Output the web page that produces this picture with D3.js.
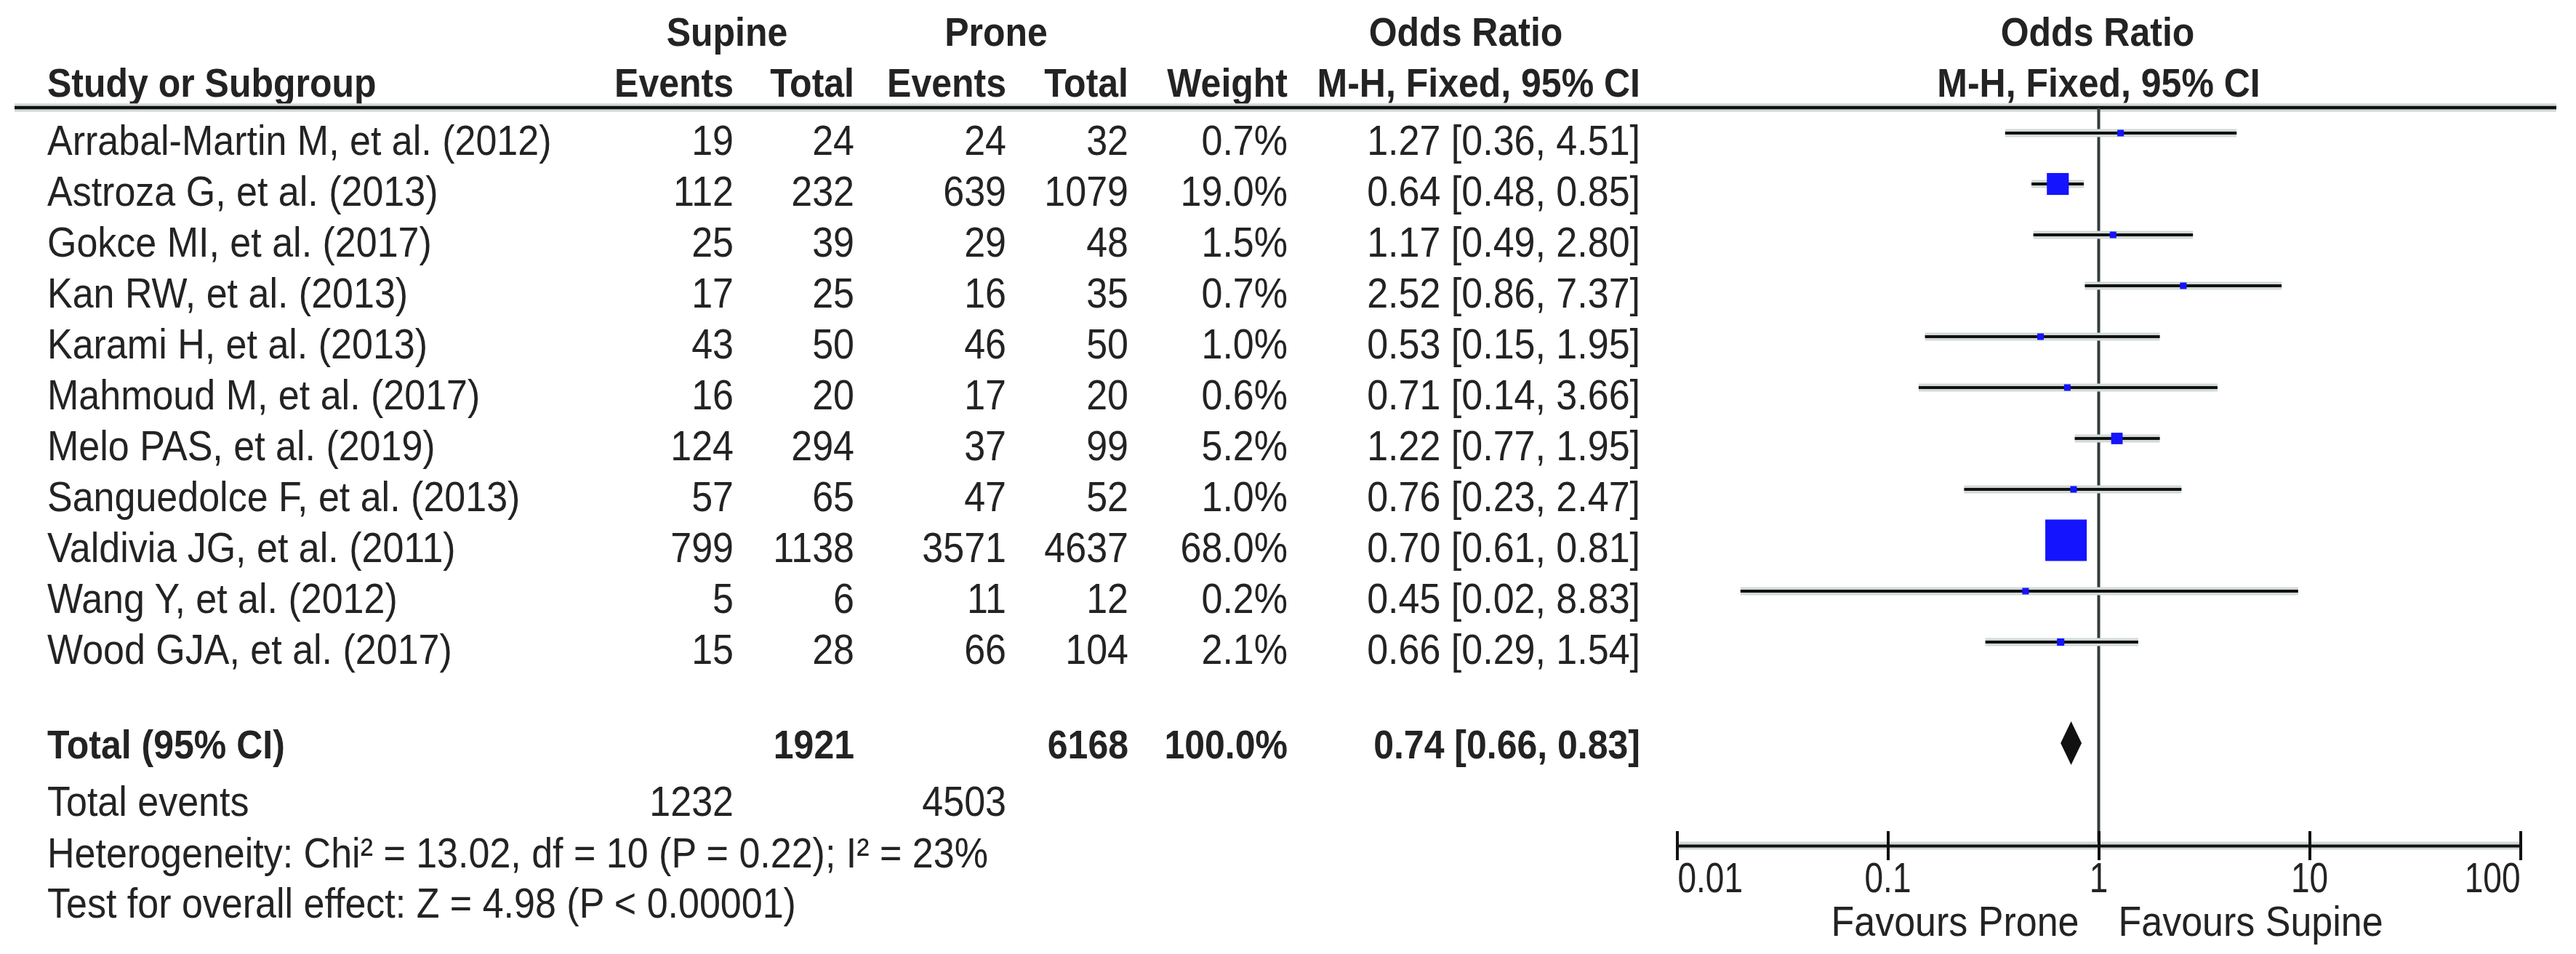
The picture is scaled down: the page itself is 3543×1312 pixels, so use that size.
<!doctype html>
<html>
<head>
<title>Supine vs Prone forest plot</title>
<script src="https://d3js.org/d3.v7.min.js"></script>
<style>
  body { margin: 0; background: #fff; }
  text { font-family: "Liberation Sans", Arial, sans-serif; fill: #232323; }
</style>
</head>
<body>
<script>
// data
var studies = ["Arrabal-Martin M, et al. (2012)", "Astroza G, et al. (2013)", "Gokce MI, et al. (2017)",
  "Kan RW, et al. (2013)", "Karami H, et al. (2013)", "Mahmoud M, et al. (2017)", "Melo PAS, et al. (2019)",
  "Sanguedolce F, et al. (2013)", "Valdivia JG, et al. (2011)", "Wang Y, et al. (2012)", "Wood GJA, et al. (2017)"];
var supineEvents = [19, 112, 25, 17, 43, 16, 124, 57, 799, 5, 15];
var supineTotal = [24, 232, 39, 25, 50, 20, 294, 65, 1138, 6, 28];
var proneEvents = [24, 639, 29, 16, 46, 17, 37, 47, 3571, 11, 66];
var proneTotal = [32, 1079, 48, 35, 50, 20, 99, 52, 4637, 12, 104];
var weights = [0.7, 19.0, 1.5, 0.7, 1.0, 0.6, 5.2, 1.0, 68.0, 0.2, 2.1];
var oddsRatio = [1.27, 0.64, 1.17, 2.52, 0.53, 0.71, 1.22, 0.76, 0.70, 0.45, 0.66];
var ciLower = [0.36, 0.48, 0.49, 0.86, 0.15, 0.14, 0.77, 0.23, 0.61, 0.02, 0.29];
var ciUpper = [4.51, 0.85, 2.80, 7.37, 1.95, 3.66, 1.95, 2.47, 0.81, 8.83, 1.54];

var totalSupine = 1921, totalProne = 6168, totalWeight = 100.0;
var eventsSupine = 1232, eventsProne = 4503;
var totalOR = 0.74, totalLower = 0.66, totalUpper = 0.83;
var heterogeneity = "Heterogeneity: Chi\u00b2 = 13.02, df = 10 (P = 0.22); I\u00b2 = 23%";
var overallTest = "Test for overall effect: Z = 4.98 (P < 0.00001)";

var tickValues = [0.01, 0.1, 1, 10, 100];
var tickLabels = ["0.01", "0.1", "1", "10", "100"];

var width = 3543, height = 1312;
var f2 = d3.format(".2f"), f1 = d3.format(".1f");

var svg = d3.select("body").append("svg")
  .attr("width", width).attr("height", height);

// column right edges
var colSupEv = 1009, colSupTot = 1175, colProEv = 1384, colProTot = 1552, colWeight = 1771, colOR = 2256;
var nameX = 65;

var x = d3.scaleLog().domain([0.01, 100]).range([2306.5, 3466.5]);
var y = d3.scaleLinear().domain([0, studies.length - 1]).range([183, 883]);
var boxSize = d3.scaleSqrt().domain([0, 68]).range([0, 57]);

function label(px, py, str, o) {
  o = o || {};
  return svg.append("text")
    .attr("transform", "translate(" + px + "," + py + ") scale(1," + (o.sy || 1.1) + ")")
    .attr("text-anchor", o.anchor || "start")
    .style("font-size", (o.size || 52) + "px")
    .style("font-weight", o.bold ? "bold" : "normal")
    .text(str);
}

function haloLine(x1, y1, x2, y2, w, color) {
  svg.append("line").attr("x1", x1).attr("y1", y1).attr("x2", x2).attr("y2", y2)
    .attr("stroke", "#d2dad8").attr("stroke-width", w + 7);
  svg.append("line").attr("x1", x1).attr("y1", y1).attr("x2", x2).attr("y2", y2)
    .attr("stroke", color || "#111").attr("stroke-width", w);
}

// headers
var b = { bold: true, size: 50 };
label(1000, 63, "Supine", { bold: true, size: 50, anchor: "middle" });
label(1370, 63, "Prone", { bold: true, size: 50, anchor: "middle" });
label(2016, 63, "Odds Ratio", { bold: true, size: 50, anchor: "middle" });
label(2885, 63, "Odds Ratio", { bold: true, size: 50, anchor: "middle" });
label(nameX, 133, "Study or Subgroup", b);
label(colSupEv, 133, "Events", { bold: true, size: 50, anchor: "end" });
label(colSupTot, 133, "Total", { bold: true, size: 50, anchor: "end" });
label(colProEv, 133, "Events", { bold: true, size: 50, anchor: "end" });
label(colProTot, 133, "Total", { bold: true, size: 50, anchor: "end" });
label(colWeight, 133, "Weight", { bold: true, size: 50, anchor: "end" });
label(colOR, 133, "M-H, Fixed, 95% CI", { bold: true, size: 50, anchor: "end" });
label(x(1), 133, "M-H, Fixed, 95% CI", { bold: true, size: 50, anchor: "middle" });

// header rule and line of no effect
haloLine(20, 148, 3516, 148, 4.5);
svg.append("line").attr("x1", x(1)).attr("x2", x(1)).attr("y1", 148).attr("y2", 1163)
  .attr("stroke", "#333b3b").attr("stroke-width", 4);

// study rows
studies.forEach(function (s, i) {
  var by = y(i) + 30;
  label(nameX, by, s);
  label(colSupEv, by, supineEvents[i], { anchor: "end" });
  label(colSupTot, by, supineTotal[i], { anchor: "end" });
  label(colProEv, by, proneEvents[i], { anchor: "end" });
  label(colProTot, by, proneTotal[i], { anchor: "end" });
  label(colWeight, by, f1(weights[i]) + "%", { anchor: "end" });
  label(colOR, by, f2(oddsRatio[i]) + " [" + f2(ciLower[i]) + ", " + f2(ciUpper[i]) + "]", { anchor: "end" });

  haloLine(x(ciLower[i]), y(i), x(ciUpper[i]), y(i), 4);
});

svg.selectAll("rect.box")
  .data(studies)
  .enter()
  .append("rect")
  .attr("class", "box")
  .attr("fill", "#1414ff")
  .attr("x", function (d, i) { return x(oddsRatio[i]) - Math.max(9, boxSize(weights[i])) / 2; })
  .attr("y", function (d, i) { return y(i) - Math.max(9, boxSize(weights[i])) / 2; })
  .attr("width", function (d, i) { return Math.max(9, boxSize(weights[i])); })
  .attr("height", function (d, i) { return Math.max(9, boxSize(weights[i])); });

// total row
var ty = 1022;
label(nameX, 1043, "Total (95% CI)", b);
label(colSupTot, 1043, totalSupine, { bold: true, size: 50, anchor: "end" });
label(colProTot, 1043, totalProne, { bold: true, size: 50, anchor: "end" });
label(colWeight, 1043, f1(totalWeight) + "%", { bold: true, size: 50, anchor: "end" });
label(colOR, 1043, f2(totalOR) + " [" + f2(totalLower) + ", " + f2(totalUpper) + "]", { bold: true, size: 50, anchor: "end" });

svg.append("path")
  .attr("d", "M" + x(totalLower) + "," + ty + "L" + x(totalOR) + "," + (ty - 30) +
    "L" + x(totalUpper) + "," + ty + "L" + x(totalOR) + "," + (ty + 30) + "Z")
  .attr("fill", "#111");

label(nameX, 1122, "Total events");
label(colSupEv, 1122, eventsSupine, { anchor: "end" });
label(colProEv, 1122, eventsProne, { anchor: "end" });
label(nameX, 1193, heterogeneity);
label(nameX, 1262, overallTest);

// axis
var axisY = 1163;
svg.append("line").attr("x1", x(0.01)).attr("x2", x(100)).attr("y1", axisY).attr("y2", axisY)
  .attr("stroke", "#d2dad8").attr("stroke-width", 11);
var axisG = svg.append("g").attr("transform", "translate(0," + axisY + ")")
  .call(d3.axisBottom(x).tickValues(tickValues).tickSizeInner(20).tickSizeOuter(0).tickFormat(""));
axisG.select(".domain").attr("stroke", "#111").attr("stroke-width", 4);
axisG.selectAll(".tick line").attr("y1", -20).attr("y2", 20).attr("stroke", "#111").attr("stroke-width", 4);
axisG.selectAll(".tick text").remove();

tickValues.forEach(function (v, i) {
  var anchor = i === 0 ? "start" : (i === tickValues.length - 1 ? "end" : "middle");
  label(x(v) + (i === 0 ? 1 : 0), 1227, tickLabels[i], { anchor: anchor, size: 46, sy: 1.23 });
});

label(x(1) - 27, 1287, "Favours Prone", { anchor: "end" });
label(x(1) + 27, 1287, "Favours Supine", { anchor: "start" });
</script>
</body>
</html>
